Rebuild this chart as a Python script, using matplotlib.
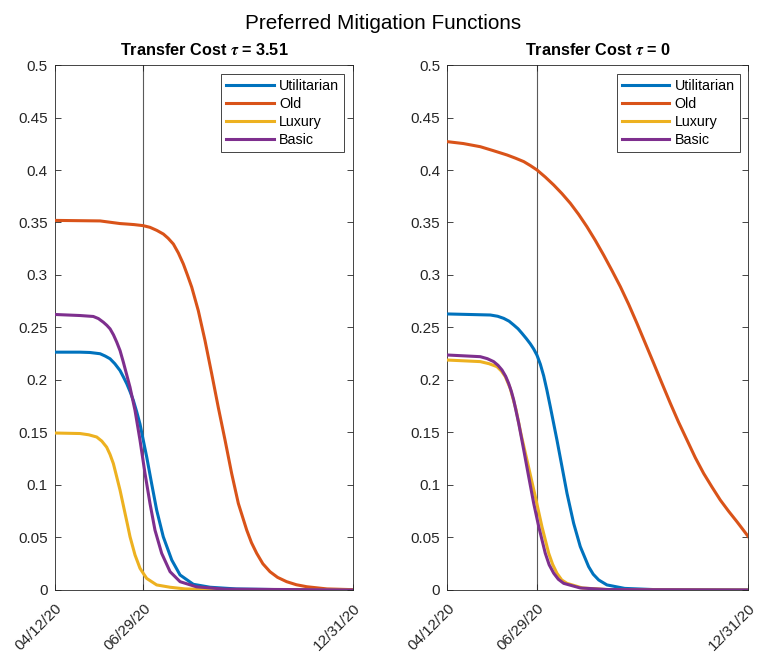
import numpy as np
import matplotlib
matplotlib.use("Agg")
import matplotlib.pyplot as plt
import matplotlib.dates as mdates
from matplotlib.ticker import FixedLocator, FuncFormatter
import datetime as dt

plt.rcParams['font.family'] = ['Liberation Sans', 'DejaVu Sans']
plt.rcParams['mathtext.fontset'] = 'stix'

start = dt.date(2020, 4, 12)
tick_dates = [dt.date(2020, 4, 12), dt.date(2020, 6, 29), dt.date(2020, 12, 31)]
vline_date = dt.date(2020, 6, 29)

labels = ['Utilitarian', 'Old', 'Luxury', 'Basic']
colors = ['#0072BD', '#D95319', '#EDB120', '#7E2F8E']

# panel 1: transfer cost tau = 3.51  (days since 04/12/20, value)
util_1_days = [0, 22.3, 31, 40, 44.5, 48.8, 53, 57.6, 60.5, 63.5, 66.4, 69.3, 72.2, 75.2, 78, 81.1, 85.5,
               89.9, 95.7, 103.2, 110.5, 122.2, 137, 160, 200, 263]
util_1_vals = [0.2265, 0.2265, 0.2262, 0.225, 0.2228, 0.2202, 0.2155, 0.209, 0.203, 0.1965, 0.189, 0.1806,
               0.17, 0.158, 0.143, 0.1267, 0.101, 0.076, 0.0507, 0.0285, 0.0143, 0.0054, 0.0026, 0.001,
               0.0003, 0]
old_1_days = [0, 40, 57.5, 64, 70, 78, 84, 90, 95.8, 100, 104.6, 109, 113.4, 117, 120.8, 126.6, 132.5, 138.4,
              144.2, 150.2, 156, 161.9, 169.3, 173.5, 178.1, 183.5, 189.8, 196.5, 204.5, 213, 222.2, 240, 263]
old_1_vals = [0.352, 0.3515, 0.349, 0.3485, 0.348, 0.347, 0.3454, 0.3425, 0.339, 0.335, 0.3295, 0.321,
              0.3105, 0.300, 0.2884, 0.266, 0.2376, 0.206, 0.174, 0.1426, 0.111, 0.0824, 0.057, 0.045,
              0.0349, 0.025, 0.0174, 0.012, 0.0079, 0.005, 0.0031, 0.001, 0.0003]
lux_1_days = [0, 22.3, 30, 37, 41.5, 45.8, 48.8, 51.7, 54.6, 57.6, 59.8, 62, 64.2, 66.4, 68.6, 70.8, 73,
              75.2, 78, 81.1, 89.9, 101.7, 115, 140, 263]
lux_1_vals = [0.1495, 0.149, 0.1478, 0.1457, 0.1418, 0.136, 0.129, 0.1204, 0.108, 0.095, 0.084, 0.073,
              0.062, 0.0507, 0.042, 0.0333, 0.027, 0.0206, 0.016, 0.011, 0.0048, 0.0026, 0.001, 0.0003, 0]
basic_1_days = [0, 22.3, 34, 38.5, 42.9, 46, 48.8, 51.8, 54.7, 57.6, 60.5, 66.4, 70.8, 75.2, 79.6, 84, 88.4,
                94.3, 101.7, 110.5, 125, 150, 263]
basic_1_vals = [0.2624, 0.2614, 0.2605, 0.2585, 0.255, 0.252, 0.2487, 0.243, 0.236, 0.228, 0.217, 0.193,
                0.171, 0.1426, 0.111, 0.0824, 0.057, 0.0349, 0.0174, 0.0079, 0.003, 0.0008, 0]

# panel 2: transfer cost tau = 0
util_2_days = [0, 37.6, 44, 49.3, 54, 58, 61.8, 65.3, 69, 72.5, 75.5, 78.4, 81.3, 84.2, 87, 90, 95.8, 100.2,
               104.6, 110.4, 116.2, 123.5, 127.5, 132.3, 139.5, 155, 180, 263]
util_2_vals = [0.2629, 0.2619, 0.2607, 0.2587, 0.256, 0.2524, 0.2488, 0.2444, 0.2395, 0.2345, 0.2295,
               0.2235, 0.215, 0.204, 0.1905, 0.1746, 0.1429, 0.1175, 0.092, 0.0635, 0.0413, 0.0222, 0.015,
               0.0095, 0.0048, 0.0015, 0.0004, 0]
old_2_days = [0, 14, 28.8, 40, 52.2, 59.5, 66.8, 72.6, 78.4, 85.7, 93, 100.2, 107.5, 114.7, 122, 129.3, 136.6,
              143.9, 151.2, 158.5, 165.7, 173, 180.3, 187.5, 194.8, 202, 209.4, 216.7, 224, 231.3, 238.5,
              245.8, 253.1, 258, 263]
old_2_vals = [0.427, 0.4252, 0.4222, 0.4185, 0.4143, 0.4113, 0.408, 0.4042, 0.4, 0.3932, 0.3857, 0.3775,
              0.3683, 0.3578, 0.346, 0.333, 0.319, 0.3042, 0.2889, 0.272, 0.254, 0.235, 0.216, 0.197, 0.178,
              0.160, 0.1429, 0.126, 0.111, 0.098, 0.0857, 0.075, 0.065, 0.058, 0.0508]
lux_2_days = [0, 28.8, 36.5, 43.4, 47.3, 50.7, 55, 60, 64.5, 69.6, 76.9, 82.7, 88.6, 92, 95.8, 100, 104.6,
              118, 140, 263]
lux_2_vals = [0.219, 0.2175, 0.2155, 0.2127, 0.2085, 0.2032, 0.192, 0.172, 0.148, 0.1238, 0.0889, 0.0603,
              0.035, 0.0245, 0.0159, 0.0095, 0.0063, 0.0019, 0.0004, 0]
basic_2_days = [0, 28.8, 35, 40.5, 44.3, 47.8, 51, 53.6, 56, 58, 62.4, 66.8, 71.1, 75.5, 79.9, 85.6, 89, 93,
                97, 101.7, 116.2, 140, 263]
basic_2_vals = [0.2238, 0.2222, 0.2203, 0.2175, 0.214, 0.2095, 0.2035, 0.1968, 0.189, 0.181, 0.1587, 0.1333,
                0.108, 0.0825, 0.0603, 0.035, 0.024, 0.0159, 0.0102, 0.0063, 0.0019, 0.0004, 0]

panels = [
    (r'Transfer Cost $\mathbfit{\tau}$ = 3.51',
     [(util_1_days, util_1_vals), (old_1_days, old_1_vals), (lux_1_days, lux_1_vals), (basic_1_days, basic_1_vals)]),
    (r'Transfer Cost $\mathbfit{\tau}$ = 0',
     [(util_2_days, util_2_vals), (old_2_days, old_2_vals), (lux_2_days, lux_2_vals), (basic_2_days, basic_2_vals)]),
]

y_ticks = np.arange(0, 0.501, 0.05)
t0 = mdates.date2num(start)

fig = plt.figure(figsize=(7.58, 6.6), dpi=100)
fig.suptitle('Preferred Mitigation Functions', fontsize=14.9, x=0.506, y=0.979)

axes_rects = [[0.0722, 0.1061, 0.3935, 0.7954], [0.5901, 0.1061, 0.3971, 0.7954]]
dark = '#262626'

for rect, (title, series) in zip(axes_rects, panels):
    ax = fig.add_axes(rect)
    ax.axvline(mdates.date2num(vline_date), color='#5a5a5a', lw=0.8, zorder=1)
    for (days, vals), lab, col in zip(series, labels, colors):
        ax.plot(t0 + np.array(days), vals, color=col, lw=2.2, label=lab, zorder=3,
                solid_joinstyle='round')

    ax.set_xlim(mdates.date2num(tick_dates[0]), mdates.date2num(tick_dates[-1]))
    ax.set_ylim(0, 0.5)
    ax.xaxis.set_major_locator(FixedLocator([mdates.date2num(d) for d in tick_dates]))
    ax.xaxis.set_major_formatter(mdates.DateFormatter('%m/%d/%y'))
    ax.set_yticks(y_ticks)
    ax.yaxis.set_major_formatter(FuncFormatter(lambda v, p: '{:g}'.format(round(v, 2))))

    ax.tick_params(direction='in', top=True, right=True, length=4, width=0.6, colors=dark,
                   labelsize=11, labelcolor=dark)
    ax.tick_params(axis='y', pad=5)
    ax.tick_params(axis='x', pad=8)
    for lbl in ax.get_xticklabels():
        lbl.set_rotation(45)
        lbl.set_ha('right')
        lbl.set_va('top')
        lbl.set_rotation_mode('anchor')
    for sp in ax.spines.values():
        sp.set_color(dark)
        sp.set_linewidth(0.6)

    ax.set_title(title, fontsize=11.7, fontweight='bold', pad=7.2)
    leg = ax.legend(loc='upper right', fontsize=10.3, frameon=True, fancybox=False, framealpha=1,
                    edgecolor=dark, handlelength=3.3, labelspacing=0.3, borderaxespad=0.6,
                    handletextpad=0.4, borderpad=0.35)
    leg.get_frame().set_linewidth(0.6)

fig.savefig('out.png', dpi=100)
